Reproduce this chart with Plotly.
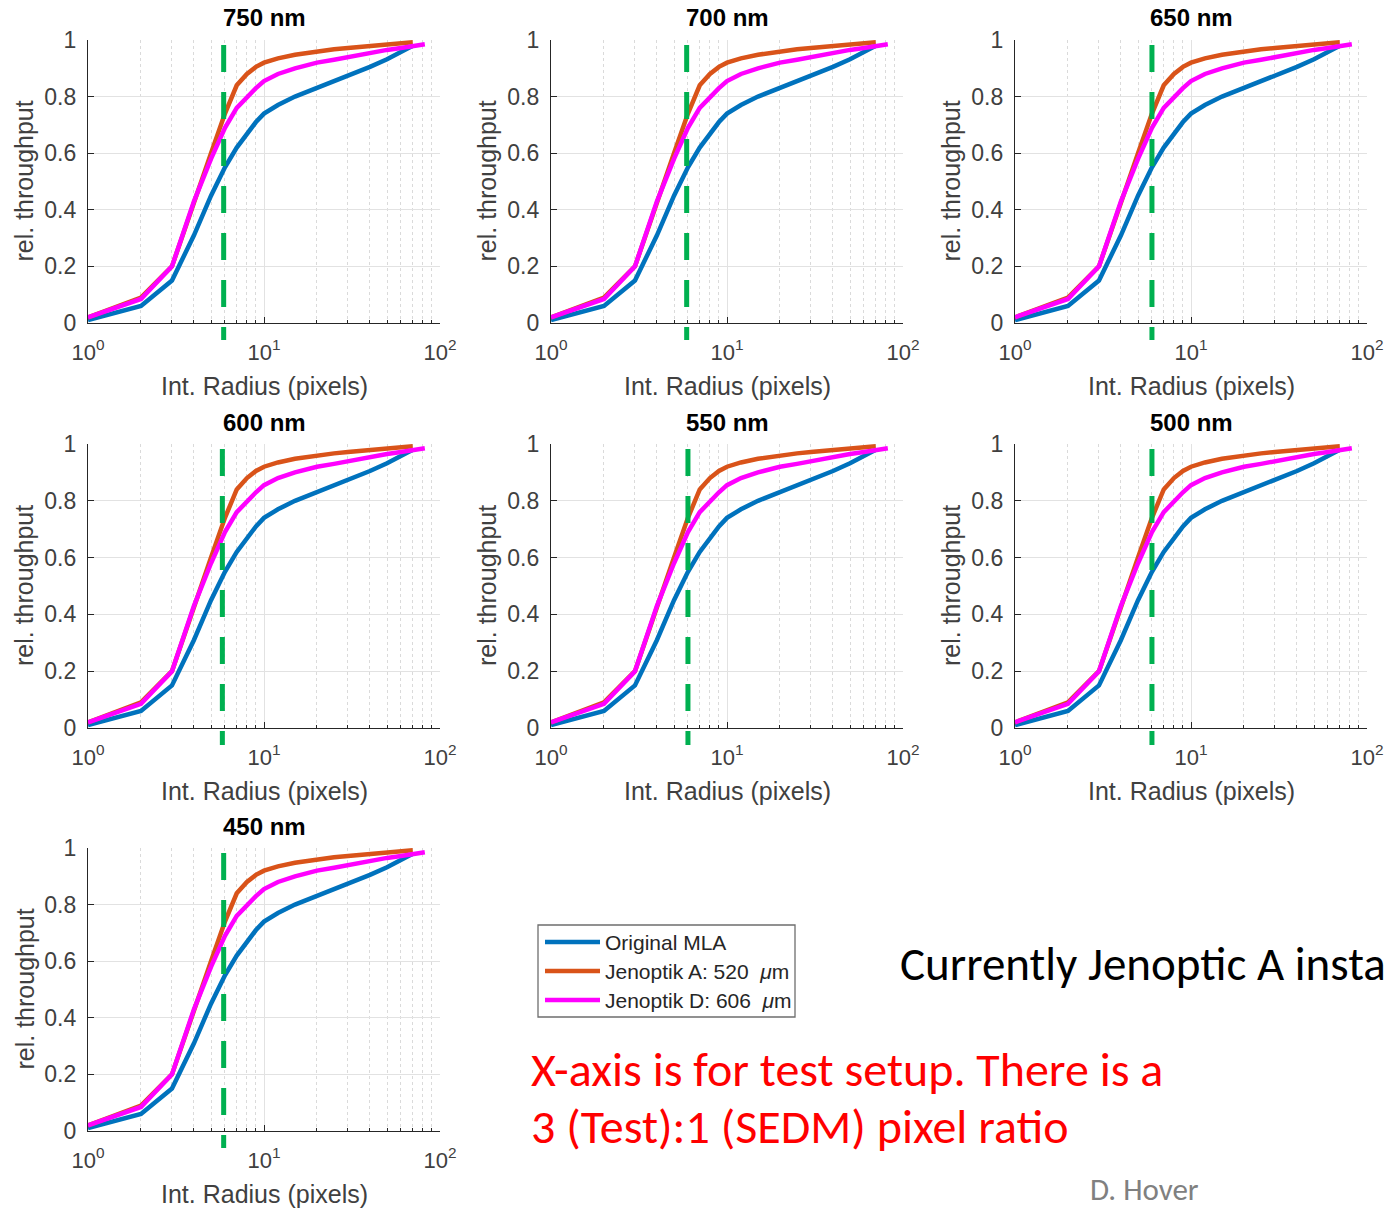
import plotly.graph_objects as go

W, H = 1386, 1208

# ---------------- data ----------------
panel_titles = ["750 nm", "700 nm", "650 nm", "600 nm", "550 nm", "500 nm", "450 nm"]
cutoff_radius = [5.9, 5.9, 6.0, 5.8, 6.0, 6.0, 5.9]

radius_orig = [1, 2, 3, 4, 5, 6, 7, 8, 9, 10, 12, 15, 20, 25, 30, 40, 50, 60, 70]
thru_orig = [0.01, 0.06, 0.15, 0.31, 0.45, 0.55, 0.62, 0.67, 0.71, 0.74, 0.77, 0.80,
             0.83, 0.855, 0.875, 0.905, 0.932, 0.957, 0.98]

radius_jena = [1, 2, 3, 4, 5, 6, 7, 8, 9, 10, 12, 15, 20, 25, 30, 40, 50, 60, 70]
thru_jena = [0.02, 0.09, 0.20, 0.43, 0.60, 0.74, 0.84, 0.88, 0.905, 0.92, 0.935, 0.948,
             0.96, 0.967, 0.972, 0.978, 0.984, 0.988, 0.992]

radius_jend = [1, 2, 3, 4, 5, 6, 7, 8, 9, 10, 12, 15, 20, 25, 30, 40, 50, 60, 70, 82]
thru_jend = [0.02, 0.085, 0.20, 0.43, 0.58, 0.69, 0.76, 0.80, 0.83, 0.855, 0.88, 0.90,
             0.92, 0.93, 0.94, 0.955, 0.965, 0.972, 0.978, 0.985]

series_names = ["Original MLA", "Jenoptik A: 520\u00a0 <i>\u03bc</i>m", "Jenoptik D: 606\u00a0 <i>\u03bc</i>m"]
series_colors = ["#0072BD", "#D95319", "#FF00FF"]

x_tickvals = [1, 10, 100]
x_ticktext = ["10<sup>0</sup>", "10<sup>1</sup>", "10<sup>2</sup>"]
x_minorvals = [2, 3, 4, 5, 6, 7, 8, 9, 20, 30, 40, 50, 60, 70, 80, 90]
y_tickvals = [0, 0.2, 0.4, 0.6, 0.8, 1]
y_ticktext = ["0", "0.2", "0.4", "0.6", "0.8", "1"]

# ---------------- layout geometry (pixels) ----------------
cols_px = [(88, 440), (551, 903), (1015, 1367)]
rows_px = [(40, 323), (444, 728), (848, 1131)]
panel_pos = [(0, 0), (0, 1), (0, 2), (1, 0), (1, 1), (1, 2), (2, 0)]

AX_FONT = "Liberation Sans, Arial, sans-serif"
SLIDE_FONT = "Carlito, Lato, sans-serif"
TXT = "#404040"
GRID = "#e2e2e2"


def px(x, y):
    return x / W, 1 - y / H


fig = go.Figure()
shapes, annotations = [], []
layout_axes = {}

series = [(radius_orig, thru_orig), (radius_jena, thru_jena), (radius_jend, thru_jend)]

for i, title in enumerate(panel_titles):
    n = "" if i == 0 else str(i + 1)
    r, c = panel_pos[i]
    x0, x1 = cols_px[c]
    yt, yb = rows_px[r]
    for k, (xs, ys) in enumerate(series):
        fig.add_trace(go.Scatter(
            x=xs, y=ys, mode="lines", name=series_names[k],
            line=dict(color=series_colors[k], width=4.5),
            xaxis="x" + n, yaxis="y" + n,
            showlegend=False, hoverinfo="skip"))
    layout_axes["xaxis" + n] = dict(
        type="log", range=[0, 2], domain=[x0 / W, x1 / W], anchor="y" + n,
        showline=True, linecolor="#262626", linewidth=1.2, mirror=False,
        ticks="inside", ticklen=6, tickcolor="#262626", tickwidth=1,
        tickvals=x_tickvals, ticktext=x_ticktext,
        tickfont=dict(family=AX_FONT, size=22, color=TXT),
        ticklabelstandoff=9, automargin=False,
        showgrid=True, gridcolor=GRID, gridwidth=1, zeroline=False,
        minor=dict(tickmode="array", tickvals=x_minorvals, ticks="inside", ticklen=3,
                   tickcolor="#262626", showgrid=True, gridcolor="#dadada",
                   griddash="dot", gridwidth=1),
    )
    layout_axes["yaxis" + n] = dict(
        range=[0, 1], domain=[1 - yb / H, 1 - yt / H], anchor="x" + n,
        showline=True, linecolor="#262626", linewidth=1.2, mirror=False,
        ticks="inside", ticklen=6, tickcolor="#262626",
        tickvals=y_tickvals, ticktext=y_ticktext,
        tickfont=dict(family=AX_FONT, size=23, color=TXT),
        ticklabelstandoff=6, automargin=False,
        showgrid=True, gridcolor=GRID, gridwidth=1, zeroline=False,
    )
    shapes.append(dict(
        type="line", xref="x" + n, yref="y" + n + " domain",
        x0=cutoff_radius[i], x1=cutoff_radius[i], y0=0.982, y1=-0.06,
        line=dict(color="#00B050", width=5, dash="27px,20px"), layer="above"))
    annotations.append(dict(
        text="<b>" + title + "</b>", xref="x" + n + " domain", yref="y" + n + " domain",
        x=0.5, y=1, xanchor="center", yanchor="middle", yshift=22, showarrow=False,
        font=dict(family=AX_FONT, size=24, color="#000000")))
    annotations.append(dict(
        text="Int. Radius (pixels)", xref="x" + n + " domain", yref="y" + n + " domain",
        x=0.5, y=0, xanchor="center", yanchor="middle", yshift=-63, showarrow=False,
        font=dict(family=AX_FONT, size=25, color=TXT)))
    annotations.append(dict(
        text="rel. throughput", xref="x" + n + " domain", yref="y" + n + " domain",
        x=0, y=0.5, xanchor="center", yanchor="middle", xshift=-64, textangle=-90,
        showarrow=False, font=dict(family=AX_FONT, size=25, color=TXT)))

# ---------------- legend box (MATLAB style) ----------------
bx0, by0 = px(538, 925)
bx1, by1 = px(795, 1017)
shapes.append(dict(type="rect", xref="paper", yref="paper", x0=bx0, x1=bx1, y0=by1, y1=by0,
                   line=dict(color="#6e6e6e", width=1.3), fillcolor="white", layer="above"))
for k, row_y in enumerate([942, 971, 1000]):
    lx0, ly = px(545, row_y)
    lx1, _ = px(600, row_y)
    shapes.append(dict(type="line", xref="paper", yref="paper", x0=lx0, x1=lx1, y0=ly, y1=ly,
                       line=dict(color=series_colors[k], width=4.5), layer="above"))
    tx, _ = px(603, row_y)
    annotations.append(dict(text=series_names[k], xref="paper", yref="paper",
                            x=tx, y=ly, xanchor="left", yanchor="middle", showarrow=False,
                            font=dict(family=AX_FONT, size=21, color="#262626")))

# ---------------- slide text ----------------
annotations += [
    dict(text="Currently Jenoptic A installed", xref="paper", yref="paper",
         x=898 / W, y=1 - 964 / H, xanchor="left", yanchor="middle", showarrow=False,
         font=dict(family=SLIDE_FONT, size=47, color="#000000")),
    dict(text="X-axis is for test setup. There is a", xref="paper", yref="paper",
         x=529 / W, y=1 - 1069 / H, xanchor="left", yanchor="middle", showarrow=False,
         font=dict(family=SLIDE_FONT, size=48, color="#FF0000")),
    dict(text="3 (Test):1 (SEDM) pixel ratio", xref="paper", yref="paper",
         x=529 / W, y=1 - 1126 / H, xanchor="left", yanchor="middle", showarrow=False,
         font=dict(family=SLIDE_FONT, size=48, color="#FF0000")),
    dict(text="D. Hover", xref="paper", yref="paper",
         x=1088 / W, y=1 - 1189 / H, xanchor="left", yanchor="middle", showarrow=False,
         font=dict(family=SLIDE_FONT, size=31, color="#808080")),
]

fig.update_layout(
    width=W, height=H, margin=dict(l=0, r=0, t=0, b=0, pad=0, autoexpand=False),
    paper_bgcolor="white", plot_bgcolor="white",
    shapes=shapes, annotations=annotations,
    showlegend=False,
    **layout_axes,
)

fig.write_html("out.html", config={"displayModeBar": False},
               post_script="document.body.style.margin='0px';")
